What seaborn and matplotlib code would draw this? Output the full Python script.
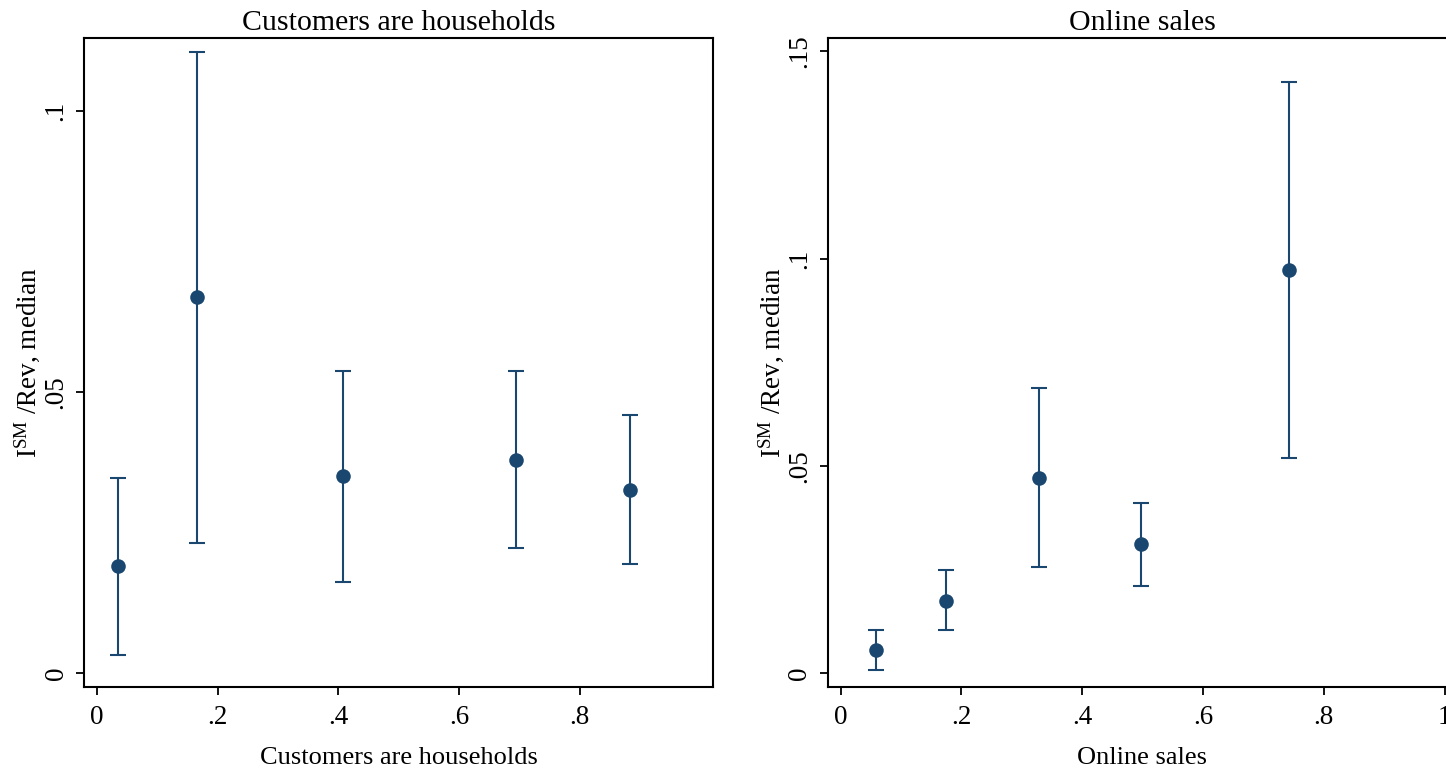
import numpy as np
import pandas as pd
import matplotlib
matplotlib.use('Agg')
import matplotlib.pyplot as plt
import seaborn as sns

sns.set_style('white')
plt.rcParams['font.family'] = ['Liberation Serif', 'DejaVu Serif']
plt.rcParams['mathtext.fontset'] = 'custom'
plt.rcParams['mathtext.rm'] = 'Liberation Serif'
plt.rcParams['mathtext.it'] = 'Liberation Serif:italic'
plt.rcParams['text.color'] = 'black'
plt.rcParams['axes.labelcolor'] = 'black'
plt.rcParams['xtick.color'] = 'black'
plt.rcParams['ytick.color'] = 'black'

NAVY = '#1a476f'

# Customers are households (left panel)
hh_share = [0.035, 0.166, 0.408, 0.694, 0.884]
hh_median = [0.0191, 0.0669, 0.0350, 0.0380, 0.0326]
hh_lo = [0.0033, 0.0232, 0.0162, 0.0223, 0.0194]
hh_hi = [0.0348, 0.1105, 0.0538, 0.0537, 0.0459]

# Online sales (right panel)
on_share = [0.0585, 0.1745, 0.3286, 0.4971, 0.7417]
on_median = [0.0056, 0.0175, 0.0472, 0.0311, 0.0973]
on_lo = [0.0009, 0.0104, 0.0256, 0.0210, 0.0520]
on_hi = [0.0105, 0.0249, 0.0689, 0.0410, 0.1425]

hh_xticks = [0, 0.2, 0.4, 0.6, 0.8]
hh_xlabels = ['0', '.2', '.4', '.6', '.8']
hh_yticks = [0, 0.05, 0.1]
hh_ylabels = ['0', '.05', '.1']

on_xticks = [0, 0.2, 0.4, 0.6, 0.8, 1.0]
on_xlabels = ['0', '.2', '.4', '.6', '.8', '1']
on_yticks = [0, 0.05, 0.1, 0.15]
on_ylabels = ['0', '.05', '.1', '.15']

ylab = r'I$^{\mathrm{SM}}$ /Rev, median'

fig = plt.figure(figsize=(14.46, 7.72), dpi=100)
ax1 = fig.add_axes([84 / 1446, 85 / 772, 629 / 1446, 649 / 772])
ax2 = fig.add_axes([827.7 / 1446, 85 / 772, 629.3 / 1446, 649 / 772])


def panel(ax, x, y, lo, hi, title, xticks, xlabels, yticks, ylabels, xlim, ylim):
    df = pd.DataFrame({'x': x, 'y': y, 'lo': lo, 'hi': hi})
    ax.errorbar(df['x'], df['y'], yerr=[df['y'] - df['lo'], df['hi'] - df['y']],
                fmt='none', ecolor=NAVY, elinewidth=1.5, capsize=5.5, capthick=1.5)
    sns.scatterplot(data=df, x='x', y='y', ax=ax, color=NAVY, s=110,
                    edgecolor=NAVY, linewidth=0, zorder=3)
    ax.set_xlim(xlim)
    ax.set_ylim(ylim)
    ax.set_xticks(xticks)
    ax.set_xticklabels(xlabels)
    ax.set_yticks(yticks)
    ax.set_yticklabels(ylabels, rotation=90, va='center')
    ax.tick_params(axis='both', which='major', direction='out', length=6,
                   width=1.3, color='black', labelsize=19.5, pad=7,
                   labelcolor='black', bottom=True, left=True)
    ax.tick_params(axis='y', pad=5)
    ax.set_title(title, fontsize=21.5, pad=6)
    ax.set_xlabel(title, fontsize=19, labelpad=12)
    ax.set_ylabel(ylab, fontsize=19.5, labelpad=1)
    for sp in ax.spines.values():
        sp.set_visible(True)
        sp.set_color('black')
        sp.set_linewidth(1.5)
    ax.grid(False)


panel(ax1, hh_share, hh_median, hh_lo, hh_hi, 'Customers are households',
      hh_xticks, hh_xlabels, hh_yticks, hh_ylabels, (-0.0215, 1.0207), (-0.0024, 0.1129))
panel(ax2, on_share, on_median, on_lo, on_hi, 'Online sales',
      on_xticks, on_xlabels, on_yticks, on_ylabels, (-0.0216, 1.0207), (-0.0033, 0.1532))

fig.savefig('out.png', dpi=100)
